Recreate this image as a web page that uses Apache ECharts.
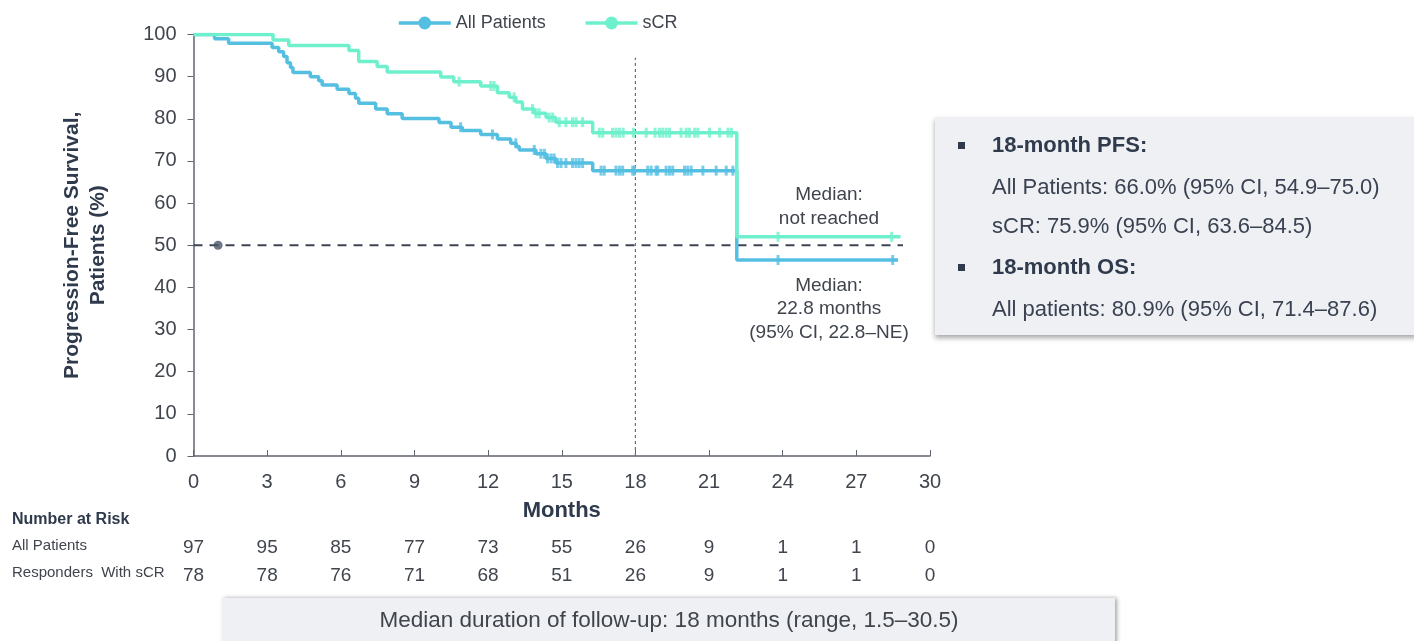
<!DOCTYPE html>
<html><head><meta charset="utf-8">
<script src="https://cdn.jsdelivr.net/npm/echarts@6/dist/echarts.min.js"></script>
<style>html,body{margin:0;padding:0;background:#fff}#c{width:1414px;height:641px}</style>
</head><body><div id="c"></div>
<script>
// ---- data ----
const monthTicks = [0,3,6,9,12,15,18,21,24,27,30];
const riskAll = [97,95,85,77,73,55,26,9,1,1,0];
const riskSCR = [78,78,76,71,68,51,26,9,1,1,0];

const allTimes = [0,0.86,1.43,3.2,3.47,3.67,3.81,3.95,4.05,4.76,5.1,5.24,5.85,6.33,6.6,6.73,7.42,7.89,8.5,10.0,10.49,10.95,11.7,12.38,12.92,13.14,13.27,13.95,14.36,14.76,16.26,22.13,28.7];
const allSurv  = [100,99.0,97.9,96.9,95.9,94.8,93.3,92.2,91.0,90.0,89.0,88.0,87.0,86.0,84.9,83.7,82.3,81.2,80.1,79.1,78.0,77.2,76.3,75.2,74.2,73.4,72.6,71.7,70.6,69.5,67.7,46.5,46.5];
const allCensor = [10.88,12.18,13.13,13.88,14.15,14.29,14.42,14.56,14.69,14.83,14.97,15.17,15.44,15.58,15.71,15.85,16.6,16.73,17.21,17.35,17.48,17.89,17.96,18.5,18.64,18.84,18.91,19.25,19.39,19.52,20.0,20.13,20.27,20.75,21.29,21.7,21.97,23.81,28.48];

const scrTimes = [0,3.24,3.88,6.33,6.73,7.48,7.89,10.07,10.6,11.7,12.38,12.86,13.13,13.4,13.88,14.36,14.76,16.26,22.13,28.8];
const scrSurv  = [100,98.7,97.4,96.2,93.6,92.4,91.1,89.9,88.8,87.8,86.2,85.1,84.0,82.3,81.3,80.3,79.2,76.7,52.0,52.0];
const scrCensor = [10.82,12.11,12.24,13.06,13.81,13.95,14.08,14.49,14.63,14.9,15.17,15.44,15.58,15.85,16.53,16.67,17.07,17.21,17.35,17.5,17.92,18.44,18.8,18.98,19.11,19.25,19.39,19.86,20.07,20.2,20.41,20.54,21.02,21.43,21.77,21.91,23.81,28.44];

const medianLineX = [0,28.9];
const medianLevel = 50;
const medianDotX = 1;
const landmarkMonth = 18;
const landmarkTop = 94.5;

// ---- helpers ----
function survAt(times, surv, t){ let v = surv[0]; for (let i=0;i<times.length;i++){ if (times[i] <= t) v = surv[i]; } return v; }
const pairs = (ts, vs) => ts.map((t,i)=>[t, vs[i]]);

const BLUE = '#55bfe2', TEAL = '#6ef0cc';
const FONT = 'Liberation Sans, Arial, sans-serif';
const DARK = '#2f3a4c', TXT = '#40454d';

const chart = echarts.init(document.getElementById('c'), null, {renderer:'canvas'});

function riskAxis(arr, offset){
  return {type:'value', gridIndex:0, position:'bottom', offset:offset, min:0, max:30, interval:3,
    axisLine:{show:false}, axisTick:{show:false}, splitLine:{show:false},
    axisLabel:{margin:8, fontSize:19, fontFamily:FONT, color:TXT, formatter:v=>String(arr[monthTicks.indexOf(v)])}};
}

const option = {
  animation:false,
  backgroundColor:'#fff',
  textStyle:{fontFamily:FONT},
  grid:{left:193.5, right:484, top:34.5, bottom:185, containLabel:false},
  legend:{data:['All Patients','sCR'], left:392, top:9, itemWidth:52, itemHeight:16, itemGap:38,
    lineStyle:{width:3.5},
    textStyle:{fontSize:18, color:TXT, fontFamily:FONT}},
  xAxis:[
    {type:'value', min:0, max:30, interval:3,
     name:'Months', nameLocation:'middle', nameGap:44,
     nameTextStyle:{fontSize:22, fontWeight:'bold', color:DARK, fontFamily:FONT},
     axisLine:{lineStyle:{color:'#60656e', width:1.5}},
     axisTick:{inside:true, length:6, lineStyle:{color:'#60656e'}},
     splitLine:{show:false},
     axisLabel:{margin:16, fontSize:20, color:TXT, fontFamily:FONT}},
    riskAxis(riskAll, 74),
    riskAxis(riskSCR, 102)
  ],
  yAxis:{type:'value', min:0, max:100, interval:10,
    name:'Progression-Free Survival,\nPatients (%)', nameLocation:'middle', nameGap:82,
    nameTextStyle:{fontSize:21, fontWeight:'bold', color:DARK, fontFamily:FONT, lineHeight:26},
    axisLine:{show:true, lineStyle:{color:'#60656e', width:1.5}},
    axisTick:{show:true, length:6, lineStyle:{color:'#60656e'}},
    splitLine:{show:false},
    axisLabel:{margin:17, fontSize:20, color:TXT, fontFamily:FONT}},
  series:[
    {name:'Median line', type:'line', data:medianLineX.map(x=>[x, medianLevel]), symbol:'none', silent:true,
     lineStyle:{color:'#3d4656', width:2, type:[9,7]}, z:2},
    {name:'Median dot', type:'scatter', data:[[medianDotX, medianLevel]], symbol:'circle', symbolSize:9,
     itemStyle:{color:'#4a5366'}, silent:true, z:3},
    {name:'Landmark', type:'line', data:[[landmarkMonth,0],[landmarkMonth,landmarkTop]], symbol:'none', silent:true,
     lineStyle:{color:'#6d6f73', width:1.2, type:[3,3]}, z:1},
    {name:'All Patients', type:'line', step:'end', data:pairs(allTimes, allSurv), symbol:'circle', symbolSize:12,
     showSymbol:false, color:BLUE, lineStyle:{color:BLUE, width:3.5}, itemStyle:{color:BLUE}, z:4},
    {name:'All censor', type:'scatter', data:allCensor.map(t=>[t, survAt(allTimes, allSurv, t)]), symbol:'rect',
     symbolSize:[3,10], itemStyle:{color:BLUE}, silent:true, z:4},
    {name:'sCR', type:'line', step:'end', data:pairs(scrTimes, scrSurv), symbol:'circle', symbolSize:12,
     showSymbol:false, color:TEAL, lineStyle:{color:TEAL, width:3.5}, itemStyle:{color:TEAL}, z:5},
    {name:'sCR censor', type:'scatter', data:scrCensor.map(t=>[t, survAt(scrTimes, scrSurv, t)]), symbol:'rect',
     symbolSize:[3,10], itemStyle:{color:TEAL}, silent:true, z:5}
  ],
  graphic:[
    // annotations
    {type:'text', x:829, y:207, style:{text:'Median:\nnot reached', fill:TXT, font:'19px '+FONT, textAlign:'center', verticalAlign:'middle', textVerticalAlign:'middle', lineHeight:24}},
    {type:'text', x:829, y:309, style:{text:'Median:\n22.8 months\n(95% CI, 22.8–NE)', fill:TXT, font:'19px '+FONT, textAlign:'center', verticalAlign:'middle', textVerticalAlign:'middle', lineHeight:23.5}},
    // risk table labels
    {type:'text', x:12, y:520, style:{text:'Number at Risk', fill:DARK, font:'bold 16px '+FONT, verticalAlign:'middle', textVerticalAlign:'middle'}},
    {type:'text', x:12, y:546, style:{text:'All Patients', fill:TXT, font:'15px '+FONT, verticalAlign:'middle', textVerticalAlign:'middle'}},
    {type:'text', x:12, y:573, style:{text:'Responders  With sCR', fill:TXT, font:'15px '+FONT, verticalAlign:'middle', textVerticalAlign:'middle'}},
    // right info box
    {type:'rect', shape:{x:935, y:117, width:482, height:218}, style:{fill:'#eef0f3', shadowBlur:5, shadowOffsetY:3, shadowOffsetX:0, shadowColor:'rgba(0,0,0,0.35)'}, z:-1},
    {type:'rect', shape:{x:958, y:142, width:7, height:7}, style:{fill:DARK}},
    {type:'text', x:992, y:146, style:{text:'18-month PFS:', fill:DARK, font:'bold 22px '+FONT, verticalAlign:'middle', textVerticalAlign:'middle'}},
    {type:'text', x:992, y:188, style:{text:'All Patients: 66.0% (95% CI, 54.9–75.0)', fill:'#3a4252', font:'22px '+FONT, verticalAlign:'middle', textVerticalAlign:'middle'}},
    {type:'text', x:992, y:227, style:{text:'sCR: 75.9% (95% CI, 63.6–84.5)', fill:'#3a4252', font:'22px '+FONT, verticalAlign:'middle', textVerticalAlign:'middle'}},
    {type:'rect', shape:{x:958, y:264, width:7, height:7}, style:{fill:DARK}},
    {type:'text', x:992, y:268, style:{text:'18-month OS:', fill:DARK, font:'bold 22px '+FONT, verticalAlign:'middle', textVerticalAlign:'middle'}},
    {type:'text', x:992, y:310, style:{text:'All patients: 80.9% (95% CI, 71.4–87.6)', fill:'#3a4252', font:'22px '+FONT, verticalAlign:'middle', textVerticalAlign:'middle'}},
    // bottom box
    {type:'rect', shape:{x:222, y:598, width:893, height:60}, style:{fill:'#eef0f3', shadowBlur:4, shadowOffsetX:2, shadowColor:'rgba(0,0,0,0.35)'}, z:-1},
    {type:'text', x:669, y:621, style:{text:'Median duration of follow-up: 18 months (range, 1.5–30.5)', fill:TXT, font:'22.5px '+FONT, textAlign:'center', verticalAlign:'middle', textVerticalAlign:'middle'}}
  ]
};
chart.setOption(option);
</script>
</body></html>
